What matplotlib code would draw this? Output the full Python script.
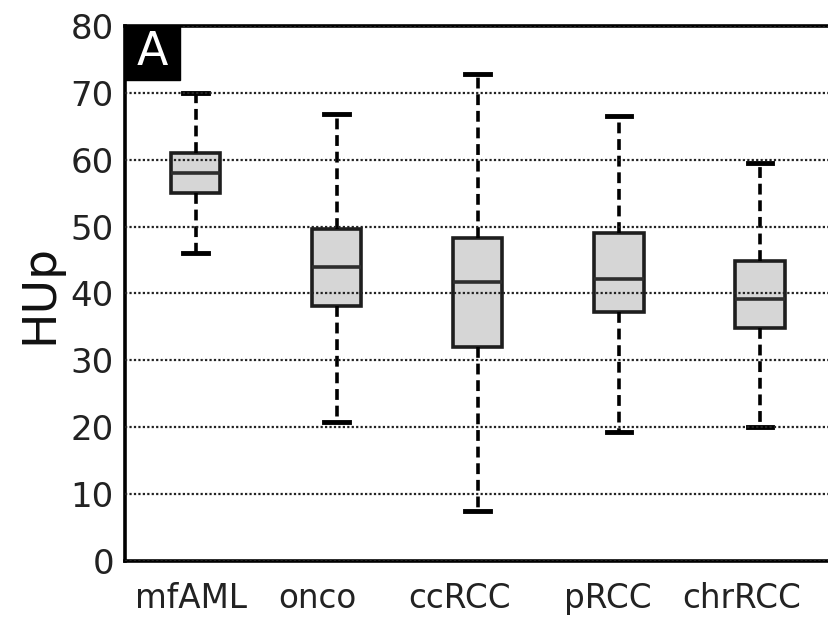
import numpy as np
import matplotlib
matplotlib.use("Agg")
import matplotlib.pyplot as plt
from matplotlib.patches import Rectangle

# tumour types and box statistics
groups = ['mfAML', 'onco', 'ccRCC', 'pRCC', 'chrRCC']
whislo = [46.0, 20.8, 7.4, 19.3, 20.1]
q1 = [55.0, 38.1, 32.0, 37.2, 34.9]
med = [58.0, 44.0, 41.7, 42.2, 39.2]
q3 = [61.0, 49.6, 48.3, 49.0, 44.8]
whishi = [70.0, 66.8, 72.8, 66.6, 59.5]

stats = []
for i in range(len(groups)):
    stats.append({'label': groups[i], 'whislo': whislo[i], 'q1': q1[i],
                  'med': med[i], 'q3': q3[i], 'whishi': whishi[i], 'fliers': []})

fig = plt.figure(figsize=(8.29, 6.2), dpi=100)
ax = fig.add_axes([0.1508, 0.0952, 0.851, 0.8629])

pos = np.arange(1, len(groups) + 1)
ax.bxp(stats, positions=pos, widths=0.35, patch_artist=True, showfliers=False,
       boxprops=dict(facecolor='#d6d6d6', edgecolor='#1e1e1e', linewidth=2.6),
       medianprops=dict(color='#2e2e2e', linewidth=2.6),
       whiskerprops=dict(color='black', linewidth=2.6, linestyle=(0, (3, 1.6))),
       capprops=dict(color='black', linewidth=3.5))

ax.set_xlim(0.5, 5.5)
ax.set_ylim(0, 80)
ax.set_yticks(np.arange(0, 81, 10))

# labels sit a little left of the boxes in the original
shift = [-0.035, -0.14, -0.13, -0.08, -0.13]
ax.set_xticks(pos + np.array(shift))
ax.set_xticklabels(groups)
ax.tick_params(axis='x', length=0, pad=15, labelsize=23.5, labelcolor='#222222')
ax.tick_params(axis='y', length=0, pad=8, labelsize=24.5, labelcolor='#222222')

ax.set_axisbelow(False)
ax.yaxis.grid(True, linestyle=(0, (1, 1)), color='#222222', linewidth=1.6)
ax.set_ylabel('HUp', fontsize=34, labelpad=6, color='#111111')

for s in ax.spines.values():
    s.set_linewidth(2.6)

# panel letter in a black corner box
bw, bh = 0.078, 0.101
ax.add_patch(Rectangle((0, 1 - bh), bw, bh, transform=ax.transAxes,
                       facecolor='black', edgecolor='black', zorder=5, clip_on=False))
ax.text(bw / 2, 1 - bh / 2, 'A', transform=ax.transAxes, ha='center', va='center',
        fontsize=33, color='white', zorder=6)

fig.savefig('out.png', dpi=100)
